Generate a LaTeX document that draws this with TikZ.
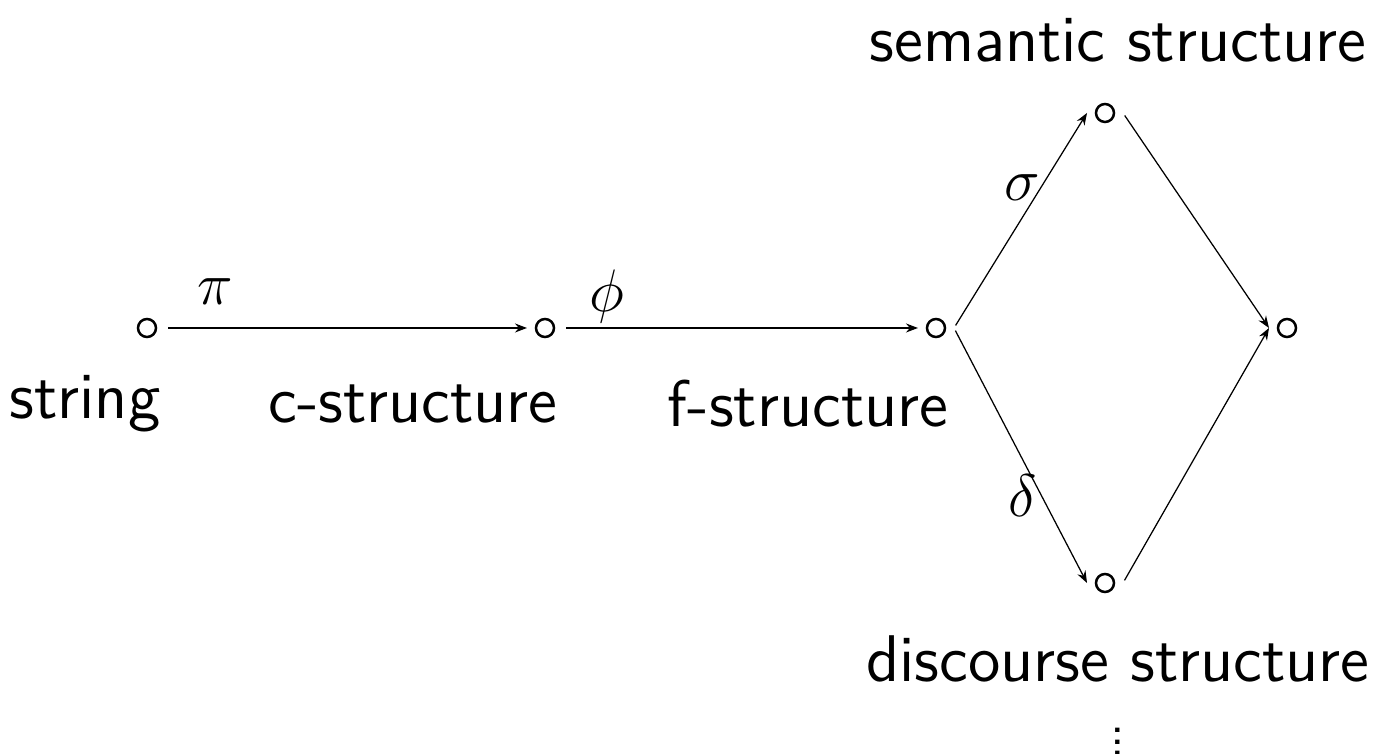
\documentclass[tikz,border=0pt]{standalone}
\usetikzlibrary{arrows.meta}
\begin{document}
\begin{tikzpicture}[x=0.2pt,y=-0.2pt,
  pt/.style={circle,draw,line width=0.5pt,minimum size=3.6pt,inner sep=0pt,outer sep=1.8pt},
  lbl/.style={font=\fontsize{13.2}{15}\selectfont\sffamily,inner sep=0pt},
  mlbl/.style={font=\fontsize{13}{15}\selectfont,inner sep=0pt},
  arr/.style={line width=0.25pt,shorten <=0.6pt,-{Stealth[length=2.4pt,width=1.8pt]}}]
\useasboundingbox (0,0) rectangle (1386,754);
\node[pt] (s) at (147,328) {};
\node[pt] (c) at (545,328) {};
\node[pt] (f) at (936,328) {};
\node[pt] (sem) at (1105,113) {};
\node[pt] (r) at (1287,328) {};
\node[pt] (d) at (1105,583) {};
\node[lbl] (ls) at (85,404) {string};
\node[lbl] (lc) at (413,404) {c-structure};
\node[lbl] (lf) at (808,404) {f-structure};
\node[lbl] (lsem) at (1118,40) {semantic structure};
\node[lbl] (ld) at (1118,659) {discourse structure};
\node[inner sep=0pt,font=\fontsize{10.5}{10}\selectfont\sffamily] (dots) at (1118,742)
  {\vbox{\baselineskip2.3pt\lineskiplimit-10pt\hbox{.}\hbox{.}\hbox{.}}};
\node[mlbl] (pi) at (215,292) {$\pi$};
\node[mlbl] (phi) at (607,297) {$\phi$};
\node[mlbl] (sig) at (1022,188) {$\sigma$};
\node[mlbl] (del) at (1023,496) {$\delta$};
\draw[arr] (s) -- (c);
\draw[arr] (c) -- (f);
\draw[arr] (f.east) -- (sem.west);
\draw[arr] (f.east) -- (d.west);
\draw[arr] (sem.east) -- (r.west);
\draw[arr] (d.east) -- (r.west);
\end{tikzpicture}
\end{document}
